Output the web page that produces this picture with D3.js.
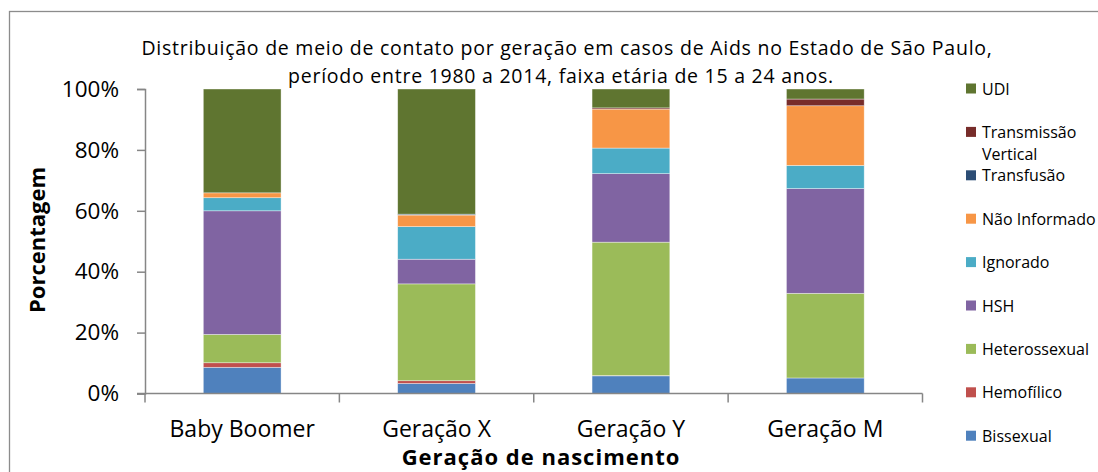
<!DOCTYPE html>
<html>
<head>
<meta charset="utf-8">
<script src="https://cdn.jsdelivr.net/npm/d3@7"></script>
<style>
  body { margin: 0; background: #fff; }
  text { font-family: "Open Sans", "Noto Sans", sans-serif; fill: #000; }
</style>
</head>
<body>
<div id="chart"></div>
<script>

// generations on the x axis
var categories = ["Baby Boomer", "Geração X", "Geração Y", "Geração M"]

// series, bottom of the stack first
var series_names = ["Bissexual", "Hemofílico", "Heterossexual", "HSH", "Ignorado",
  "Não Informado", "Transfusão", "Transmissão Vertical", "UDI"]
var series_colors = ["#4F81BD", "#C0504D", "#9BBB59", "#8064A2", "#4BACC6",
  "#F79646", "#2C4D75", "#772C2A", "#5F7530"]

// percentage per generation
var bissexual = [8.6, 3.3, 5.8, 5.1]
var hemofilico = [1.5, 0.9, 0.1, 0]
var heterossexual = [9.3, 31.8, 43.8, 27.8]
var hsh = [40.6, 8.1, 22.5, 34.4]
var ignorado = [4.3, 10.7, 8.4, 7.6]
var nao_informado = [1.6, 3.8, 12.8, 19.6]
var transfusao = [0, 0.3, 0, 0]
var transmissao_vertical = [0, 0, 0.4, 2.2]
var udi = [34.1, 41.1, 6.2, 3.3]

var y_ticks = [0, 20, 40, 60, 80, 100]

var width = 1098, height = 472
var margin = {left: 145, right: 176, top: 89, bottom: 78}

var svg = d3.select("#chart").append("svg")
  .attr("width", width)
  .attr("height", height)

// chart frame
svg.append("rect")
  .attr("x", 9.5)
  .attr("y", 11.5)
  .attr("width", 1200)
  .attr("height", 600)
  .attr("fill", "none")
  .attr("stroke", "#8c8c8c")
  .attr("stroke-width", 1.3)

// build table for the stack
var all_values = [bissexual, hemofilico, heterossexual, hsh, ignorado,
  nao_informado, transfusao, transmissao_vertical, udi]
var table = categories.map(function(c, i){
  var row = {cat: c}
  series_names.forEach(function(s, j){ row[s] = all_values[j][i] })
  return row
})
var stacked = d3.stack().keys(series_names)(table)

var x = d3.scaleBand()
  .domain(categories)
  .range([margin.left, width - margin.right + 0.5])
  .paddingInner(0.6)
  .paddingOuter(0.3)

var y = d3.scaleLinear()
  .domain([0, 100])
  .range([393.5, margin.top])

// bars
svg.append("g").selectAll("g")
  .data(stacked)
  .enter().append("g")
    .attr("fill", function(d, i){ return series_colors[i] })
  .selectAll("rect")
  .data(function(d){ return d })
  .enter().append("rect")
    .filter(function(d){ return d[1] - d[0] > 0 })
    .attr("x", function(d){ return x(d.data.cat) })
    .attr("width", x.bandwidth())
    .attr("y", function(d){ return y(d[1]) })
    .attr("height", function(d){ return y(d[0]) - y(d[1]) })
    .attr("stroke", "rgba(255,255,255,0.55)")
    .attr("stroke-width", 0.7)

// y axis
var y_axis = svg.append("g")
  .attr("transform", "translate(" + margin.left + ",0)")
  .call(d3.axisLeft(y).tickValues(y_ticks).tickSize(8).tickPadding(18)
    .tickFormat(function(d){ return d + "%" }))
y_axis.selectAll("text").style("font-size", "22.5px")

// x axis, ticks sit between the categories
var step = x.step()
var x_axis = svg.append("g")
  .attr("transform", "translate(0,393.5)")
x_axis.append("line")
  .attr("x1", margin.left - 8).attr("x2", width - margin.right + 0.5)
  .attr("stroke", "#868686").attr("stroke-width", 1.5)
x_axis.selectAll("line.tick")
  .data(d3.range(categories.length + 1))
  .enter().append("line")
    .attr("class", "tick")
    .attr("x1", function(i){ return margin.left + i * step })
    .attr("x2", function(i){ return margin.left + i * step })
    .attr("y2", 9)
    .attr("stroke", "#868686").attr("stroke-width", 1.5)
x_axis.selectAll("text")
  .data(categories)
  .enter().append("text")
    .attr("x", function(d){ return x(d) + x.bandwidth() / 2 })
    .attr("y", 43)
    .attr("text-anchor", "middle")
    .style("font-size", "23px")
    .text(function(d){ return d })

y_axis.select(".domain").attr("stroke", "#868686").attr("stroke-width", 1.5)
y_axis.selectAll(".tick line").attr("stroke", "#868686").attr("stroke-width", 1.5)

// titles
var title = svg.append("text")
  .attr("text-anchor", "middle")
  .style("font-size", "19.5px")
  .style("letter-spacing", "0.75px")
title.append("tspan").attr("x", 567).attr("y", 55)
  .text("Distribuição de meio de contato por geração em casos de Aids no Estado de São Paulo,")
title.append("tspan").attr("x", 561).attr("y", 83)
  .text("período entre 1980 a 2014, faixa etária de 15 a 24 anos.")

svg.append("text")
  .attr("x", 541)
  .attr("y", 465)
  .attr("text-anchor", "middle")
  .style("font-size", "22px")
  .style("letter-spacing", "1px")
  .style("font-weight", "bold")
  .text("Geração de nascimento")

svg.append("text")
  .attr("transform", "translate(45,240) rotate(-90)")
  .attr("text-anchor", "middle")
  .style("font-size", "22px")
  .style("font-weight", "bold")
  .text("Porcentagem")

// legend, top entry is the top of the stack
var legend_items = series_names.slice().reverse()
var legend_colors = series_colors.slice().reverse()
var legend = svg.append("g").attr("class", "legend")
legend_items.forEach(function(name, i){
  var cy = 88.5 + i * 43.4
  legend.append("rect")
    .attr("x", 966).attr("y", cy - 5)
    .attr("width", 10).attr("height", 10)
    .attr("fill", legend_colors[i])
  var words = name == "Transmissão Vertical" ? ["Transmissão", "Vertical"] : [name]
  var t = legend.append("text").style("font-size", "16px")
  words.forEach(function(w, k){
    t.append("tspan").attr("x", 982).attr("y", cy + 6 + k * 22).text(w)
  })
})

</script>
</body>
</html>
